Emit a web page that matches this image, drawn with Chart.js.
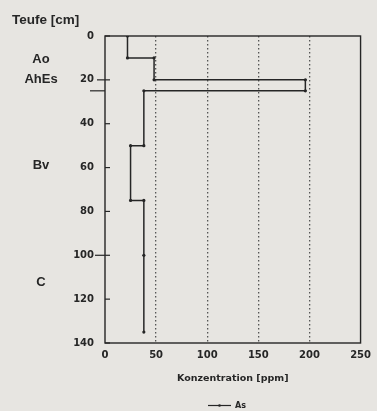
<!DOCTYPE html>
<html>
<head>
<meta charset="utf-8">
<script src="https://cdn.jsdelivr.net/npm/chart.js@4.4.1/dist/chart.umd.min.js"></script>
<style>
  html, body { margin: 0; padding: 0; background: #e7e5e1; }
  #wrap { width: 377px; height: 411px; position: relative; }
</style>
</head>
<body>
<div id="wrap"><canvas id="c" width="377" height="411"></canvas></div>
<script>
// ---- data ----
const depthCm = [0, 10, 10, 20, 20, 25, 25, 50, 50, 75, 75, 100, 135];
const asPpm   = [22, 22, 48, 48, 196, 196, 38, 38, 25, 25, 38, 38, 38];
const xTicks = [0, 50, 100, 150, 200, 250];
const yTicks = [0, 20, 40, 60, 80, 100, 120, 140];
const horizonNames = ['Ao', 'AhEs', 'Bv', 'C'];
const horizonDepths = [10.5, 20, 59, 112.5];
const boundaryDepths = [20, 25, 100];
const seriesLabel = 'As';
const yTitle = 'Teufe [cm]';
const xTitle = 'Konzentration [ppm]';

const points = depthCm.map((d, i) => ({ x: asPpm[i], y: d }));
const INK = '#262626';
const BOLD = 'DejaVu Sans';

const paperPlugin = {
  id: 'paper',
  beforeDraw(chart) {
    const ctx = chart.ctx;
    ctx.save();
    ctx.fillStyle = '#e7e5e1';
    ctx.fillRect(0, 0, chart.width, chart.height);
    ctx.restore();
  }
};

const decorPlugin = {
  id: 'decor',
  afterDraw(chart) {
    const ctx = chart.ctx;
    const a = chart.chartArea;
    const ys = chart.scales.y;
    ctx.save();
    // frame
    ctx.strokeStyle = INK;
    ctx.lineWidth = 1.4;
    ctx.strokeRect(a.left, a.top, a.right - a.left, a.bottom - a.top);
    // inward ticks on y axis
    ctx.lineWidth = 1.2;
    yTicks.forEach(v => {
      const y = ys.getPixelForValue(v);
      ctx.beginPath(); ctx.moveTo(a.left, y); ctx.lineTo(a.left + 5, y); ctx.stroke();
    });
    // horizon boundary marks left of the axis
    const lens = {20: 8, 25: 15, 100: 10};
    boundaryDepths.forEach(d => {
      const y = ys.getPixelForValue(d);
      ctx.beginPath(); ctx.moveTo(a.left - (lens[d] || 10), y); ctx.lineTo(a.left, y); ctx.stroke();
    });
    // horizon labels
    ctx.fillStyle = INK;
    ctx.font = 'bold 13px "Liberation Sans", Arial, sans-serif';
    ctx.textAlign = 'center';
    ctx.textBaseline = 'middle';
    horizonNames.forEach((n, i) => {
      ctx.fillText(n, 41, ys.getPixelForValue(horizonDepths[i]));
    });
    // y title
    ctx.textAlign = 'left';
    ctx.font = 'bold 13.5px "Liberation Sans", Arial, sans-serif';
    ctx.fillText(yTitle, 12, 20);
    // legend
    const ly = 405.5;
    ctx.lineWidth = 1.2;
    ctx.beginPath(); ctx.moveTo(208, ly); ctx.lineTo(231, ly); ctx.stroke();
    ctx.beginPath(); ctx.arc(219.5, ly, 1.3, 0, Math.PI * 2); ctx.fill();
    ctx.font = 'bold 8px "DejaVu Sans", sans-serif';
    ctx.fillText(seriesLabel, 235, ly);
    ctx.restore();
  }
};

new Chart(document.getElementById('c'), {
  type: 'scatter',
  data: {
    datasets: [{
      label: seriesLabel,
      data: points,
      showLine: true,
      tension: 0,
      borderColor: INK,
      borderWidth: 1.5,
      pointRadius: 1.6,
      pointBackgroundColor: INK,
      pointBorderWidth: 0
    }]
  },
  options: {
    responsive: false,
    animation: false,
    devicePixelRatio: 1,
    layout: { padding: { top: 36, right: 15, left: 0, bottom: 0 } },
    plugins: {
      legend: { display: false },
      tooltip: { enabled: false },
      title: { display: false }
    },
    scales: {
      x: {
        type: 'linear',
        min: 0, max: 250,
        afterBuildTicks: s => { s.ticks = xTicks.map(v => ({ value: v })); },
        afterFit: s => { s.height = 68; },
        border: { display: false, dash: [1.5, 2.5] },
        grid: {
          drawTicks: false,
          lineWidth: 1.3,
          color: c => (c.tick && (c.tick.value === 0 || c.tick.value === 250)) ? 'rgba(0,0,0,0)' : '#555555'
        },
        ticks: {
          padding: 6,
          color: INK,
          font: { family: BOLD, weight: 'bold', size: 10 },
          maxRotation: 0
        },
        title: {
          display: true,
          text: xTitle,
          color: INK,
          font: { family: BOLD, weight: 'bold', size: 9.5 },
          padding: { top: 0, bottom: 27 }
        }
      },
      y: {
        type: 'linear',
        reverse: true,
        min: 0, max: 140,
        afterBuildTicks: s => { s.ticks = yTicks.map(v => ({ value: v })); },
        afterFit: s => { s.width = 105; },
        border: { display: false },
        grid: { display: false, drawTicks: false },
        ticks: {
          padding: 11,
          color: INK,
          font: { family: BOLD, weight: 'bold', size: 10 }
        }
      }
    }
  },
  plugins: [paperPlugin, decorPlugin]
});
</script>
</body>
</html>
